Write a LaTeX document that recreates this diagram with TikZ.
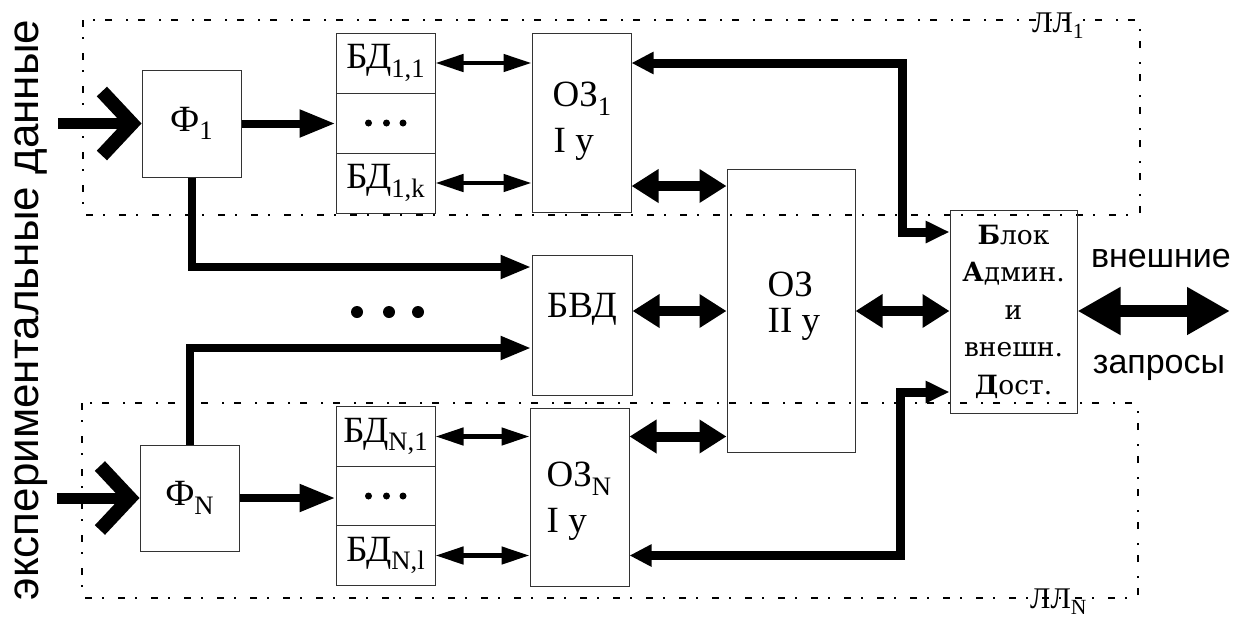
\documentclass[tikz,border=0pt]{standalone}
\usepackage{fontspec}
\setmainfont{Liberation Serif}
\newfontfamily\sansf{Liberation Sans}
\newfontfamily\wideserif{DejaVu Serif}
\newcommand{\sbs}[1]{\raisebox{-0.23em}{\scalebox{0.72}{#1}}}
\usetikzlibrary{arrows.meta,calc}
\begin{document}
\begin{tikzpicture}[x=1pt,y=-1pt,
  box/.style={draw=black!80,line width=1pt,inner sep=0pt},
  bfont/.style={font=\fontsize{37}{44}\selectfont},
  bdrow/.style={box,bfont,minimum width=99pt,minimum height=60pt},
  dashdot/.style={line width=1.6pt,dash pattern=on 7pt off 10pt on 2pt off 14pt},
  lab/.style={font=\fontsize{30}{36}\selectfont,inner sep=0pt},
  sfont/.style={font=\sansf\fontsize{34}{40}\selectfont,inner sep=0pt},
  thinarr/.style={line width=4.5pt,{Triangle[length=28pt,width=17pt]}-{Triangle[length=28pt,width=17pt]}},
  thickarr/.style={line width=10pt,{Triangle[length=27pt,width=32pt]}-{Triangle[length=27pt,width=32pt]}},
  fconn/.style={line width=8pt,-{Triangle[length=36pt,width=26pt]}},
  fconnb/.style={line width=8pt,-{Triangle[length=31pt,width=22pt]}},
  bigconn/.style={line width=9pt,{Triangle[length=22pt,width=21pt]}-{Triangle[length=24pt,width=21pt]}},
  extarr/.style={line width=12pt,{Triangle[length=43pt,width=45pt]}-{Triangle[length=43pt,width=45pt]}},
  inarrow/.style={line width=11pt,-{Straight Barb[length=30pt,width=64pt,line width=14pt]}}
]
\useasboundingbox (0,0) rectangle (1244,625);

% dash-dot groups
\draw[dashdot] (83,20) rectangle (1140,215);
\draw[dashdot] (82,403) rectangle (1138,598);
\node[lab,anchor=base west] (l1) at (1032,32) {ЛЛ\sbs{1}};
\node[lab,anchor=base west] (ln) at (1030,608) {ЛЛ\sbs{N}};

% boxes
\node[box,bfont,minimum width=99pt,minimum height=107pt] (f1) at (191.5,123.5) {Ф\sbs{1}};
\node[box,bfont,minimum width=99pt,minimum height=106pt] (fn) at (189.5,498) {Ф\sbs{N}};

\node[bdrow] (b11) at (385.5,63) {БД\sbs{1,1}};
\node[bdrow] (b12) at (385.5,123) {};
\node[bdrow] (b13) at (385.5,183) {БД\sbs{1,k}};
\node[bdrow,minimum height=59.5pt] (bn1) at (385.5,436.5) {БД\sbs{N,1}};
\node[bdrow,minimum height=59.5pt] (bn2) at (385.5,496) {};
\node[bdrow,minimum height=59.5pt] (bn3) at (385.5,555.5) {БД\sbs{N,l}};

\foreach \b in {b12,bn2}{
  \fill ($(\b.center)+(-17,0)$) circle (3.5pt);
  \fill ($(\b.center)+(1,0)$) circle (3.5pt);
  \fill ($(\b.center)+(17.5,0)$) circle (3.5pt);
}

\node[box,minimum width=99pt,minimum height=179pt] (oz1) at (581.5,122.5) {};
\node[bfont,anchor=base west,inner sep=0pt] (oz1a) at ($(oz1.north west)+(21,74)$) {ОЗ\sbs{1}};
\node[bfont,anchor=base west,inner sep=0pt] (oz1b) at ($(oz1.north west)+(22,120)$) {I у};

\node[box,minimum width=100pt,minimum height=140pt] (bvd) at (582,325) {};
\node[bfont,anchor=base,inner sep=0pt] (bvdt) at ($(bvd.center)+(0,-8)$) {БВД};

\node[box,minimum width=99pt,minimum height=178pt] (ozn) at (579.5,497) {};
\node[bfont,anchor=base west,inner sep=0pt] (ozna) at ($(ozn.north west)+(17,79)$) {ОЗ\sbs{N}};
\node[bfont,anchor=base west,inner sep=0pt] (oznb) at ($(ozn.north west)+(17,125)$) {I у};

\node[box,minimum width=128pt,minimum height=283pt] (oz2) at (791,310.5) {};
\node[bfont,anchor=base west,inner sep=0pt] (oz2a) at ($(oz2.north west)+(41,128)$) {ОЗ};
\node[bfont,anchor=base west,inner sep=0pt] (oz2b) at ($(oz2.north west)+(41,164)$) {II у};

\node[box,minimum width=127pt,minimum height=203pt,align=center,
      font=\wideserif\fontsize{26.5}{37.5}\selectfont] (blk) at (1013.5,311.5)
  {{\bfseries Б}лок\\{\bfseries А}дмин.\\и\\внешн.\\{\bfseries Д}ост.};

% texts outside
\node[rotate=90,anchor=base,inner sep=0pt,font=\sansf\fontsize{44}{50}\selectfont] (vt) at (38,310) {экспериментальные данные};
\node[sfont,anchor=base] (ext1) at (1161,267) {внешние};
\node[sfont,anchor=base] (ext2) at (1159,373) {запросы};

% big dots
\fill (357,312) circle (6pt);
\fill (389,312) circle (6pt);
\fill (418,312) circle (6pt);

% connectors
\coordinate (in1) at (58,123.5);
\coordinate (inn) at (57,498);
\draw[inarrow] (in1) -- (f1.west);
\draw[inarrow] (inn) -- (fn.west);

\draw[fconn] (f1.east) -- (f1.east -| b12.west);
\draw[fconn] (fn.east) -- (fn.east -| bn2.west);

\coordinate (vin1) at ($(bvd.west)+(0,-58)$);
\coordinate (vin2) at ($(bvd.west)+(0,23)$);
\draw[fconnb] (f1.south) |- (vin1);
\draw[fconnb] (fn.north) |- (vin2);

\draw[thinarr] (b11.east) -- (b11.east -| oz1.west);
\draw[thinarr] (b13.east) -- (b13.east -| oz1.west);
\draw[thinarr] (bn1.east) -- (bn1.east -| ozn.west);
\draw[thinarr] (bn3.east) -- (bn3.east -| ozn.west);

\coordinate (y1) at (0,186);
\coordinate (y2) at (0,311);
\draw[thickarr] (oz1.east |- y1) -- (oz2.west |- y1);
\draw[thickarr] (bvd.east |- y2) -- (oz2.west |- y2);
\draw[thickarr] (ozn.east |- bn1) -- (oz2.west |- bn1);
\draw[thickarr] (oz2.east |- y2) -- (blk.west |- y2);

\coordinate (extend) at (1230,311);
\draw[extarr] (blk.east |- y2) -- (extend);

\coordinate (t1) at (902,232);
\coordinate (t2) at (900,392);
\draw[bigconn] (oz1.east |- b11) -| (t1) -- (blk.west |- t1);
\draw[bigconn] (ozn.east |- bn3) -| (t2) -- (blk.west |- t2);
\end{tikzpicture}
\end{document}
